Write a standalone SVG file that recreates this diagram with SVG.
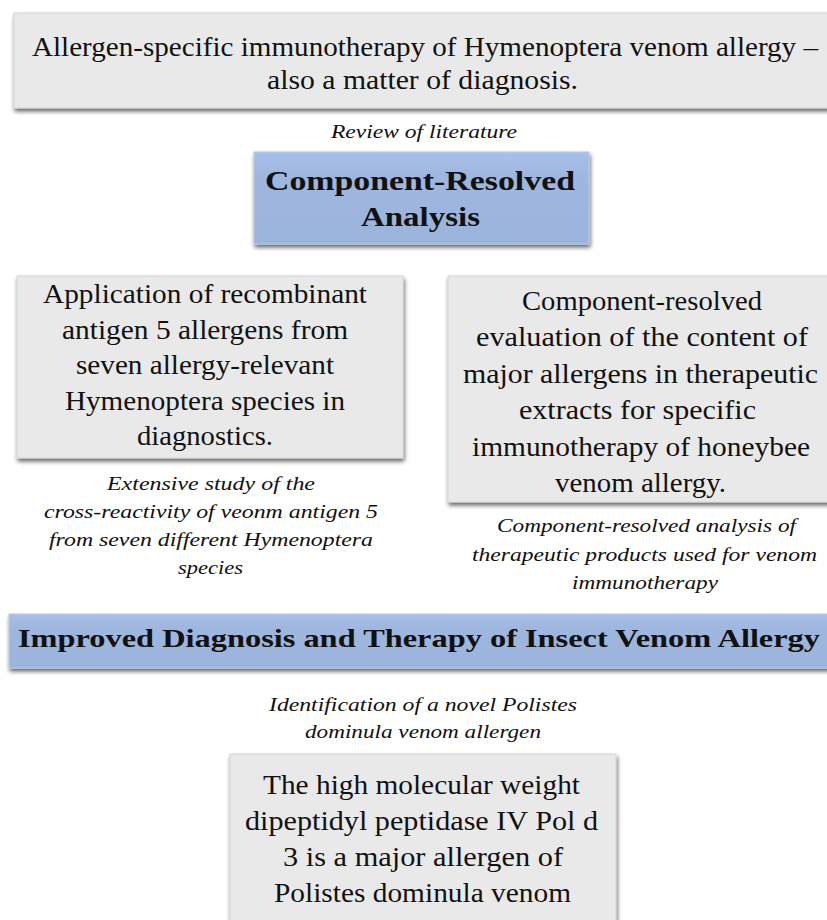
<svg xmlns="http://www.w3.org/2000/svg" width="827" height="920" viewBox="0 0 827 920">
<defs>
<filter id="sh" x="-5%" y="-5%" width="115%" height="125%">
<feGaussianBlur in="SourceAlpha" stdDeviation="2"/>
<feOffset dx="1" dy="3" result="b"/>
<feComponentTransfer><feFuncA type="linear" slope="0.6"/></feComponentTransfer>
<feMerge><feMergeNode/><feMergeNode in="SourceGraphic"/></feMerge>
</filter>
<linearGradient id="blue" x1="0" y1="0" x2="0" y2="1">
<stop offset="0" stop-color="#a9c1e8"/>
<stop offset="0.25" stop-color="#9fb7df"/>
<stop offset="1" stop-color="#9bb4dc"/>
</linearGradient>
</defs>
<style>
.g{fill:#e9e9e9;stroke:#d4d4d4;stroke-width:1}
.b{fill:url(#blue);stroke:#b4c8e8;stroke-width:1}
text{fill:#111;text-anchor:middle}
.t{font-size:27px}
.bt{font-size:27px;font-weight:bold}
.bn{font-size:25px;font-weight:bold}
.i{font-size:18.5px;font-style:italic}
</style>
<rect width="827" height="920" fill="#ffffff"/>
<g font-family="Liberation Serif, DejaVu Serif, serif">
<g id="title">
<rect class="g" x="14" y="13" width="830" height="95" filter="url(#sh)"/>
<text class="t" x="425" y="56" textLength="786" lengthAdjust="spacingAndGlyphs">Allergen-specific immunotherapy of Hymenoptera venom allergy –</text>
<text class="t" x="422.5" y="89" textLength="311" lengthAdjust="spacingAndGlyphs">also a matter of diagnosis.</text>
</g>
<g id="review">
<text class="i" x="424" y="138" textLength="186" lengthAdjust="spacingAndGlyphs">Review of literature</text>
</g>
<g id="cra">
<rect class="b" x="254" y="152" width="335" height="92" filter="url(#sh)"/>
<text class="bt" x="420" y="190" textLength="310" lengthAdjust="spacingAndGlyphs">Component-Resolved</text>
<text class="bt" x="420.5" y="226" textLength="119" lengthAdjust="spacingAndGlyphs">Analysis</text>
</g>
<g id="left">
<rect class="g" x="17" y="276" width="386" height="182" filter="url(#sh)"/>
<text class="t" x="205" y="303" textLength="324" lengthAdjust="spacingAndGlyphs">Application of recombinant</text>
<text class="t" x="205" y="338.5" textLength="286" lengthAdjust="spacingAndGlyphs">antigen 5 allergens from</text>
<text class="t" x="205" y="374" textLength="258" lengthAdjust="spacingAndGlyphs">seven allergy-relevant</text>
<text class="t" x="205" y="409.5" textLength="280" lengthAdjust="spacingAndGlyphs">Hymenoptera species in</text>
<text class="t" x="205" y="445" textLength="136" lengthAdjust="spacingAndGlyphs">diagnostics.</text>
</g>
<g id="leftcap">
<text class="i" x="211" y="490" textLength="208" lengthAdjust="spacingAndGlyphs">Extensive study of the</text>
<text class="i" x="211" y="518" textLength="334" lengthAdjust="spacingAndGlyphs">cross-reactivity of veonm antigen 5</text>
<text class="i" x="211" y="546" textLength="324" lengthAdjust="spacingAndGlyphs">from seven different Hymenoptera</text>
<text class="i" x="210.5" y="574" textLength="65" lengthAdjust="spacingAndGlyphs">species</text>
</g>
<g id="right">
<rect class="g" x="448" y="276" width="400" height="226" filter="url(#sh)"/>
<text class="t" x="642" y="310" textLength="240" lengthAdjust="spacingAndGlyphs">Component-resolved</text>
<text class="t" x="642" y="346.4" textLength="332" lengthAdjust="spacingAndGlyphs">evaluation of the content of</text>
<text class="t" x="640.5" y="382.8" textLength="355" lengthAdjust="spacingAndGlyphs">major allergens in therapeutic</text>
<text class="t" x="637.5" y="419.2" textLength="237" lengthAdjust="spacingAndGlyphs">extracts for specific</text>
<text class="t" x="641" y="455.6" textLength="338" lengthAdjust="spacingAndGlyphs">immunotherapy of honeybee</text>
<text class="t" x="640.5" y="492" textLength="171" lengthAdjust="spacingAndGlyphs">venom allergy.</text>
</g>
<g id="rightcap">
<text class="i" x="646.5" y="532" textLength="299" lengthAdjust="spacingAndGlyphs">Component-resolved analysis of</text>
<text class="i" x="644.5" y="561" textLength="345" lengthAdjust="spacingAndGlyphs">therapeutic products used for venom</text>
<text class="i" x="645" y="589" textLength="146" lengthAdjust="spacingAndGlyphs">immunotherapy</text>
</g>
<g id="banner">
<rect class="b" x="9" y="614" width="840" height="54" filter="url(#sh)"/>
<text class="bn" x="419" y="647" textLength="802" lengthAdjust="spacingAndGlyphs">Improved Diagnosis and Therapy of Insect Venom Allergy</text>
</g>
<g id="polcap">
<text class="i" x="423" y="711" textLength="308" lengthAdjust="spacingAndGlyphs">Identification of a novel Polistes</text>
<text class="i" x="423" y="738" textLength="236" lengthAdjust="spacingAndGlyphs">dominula venom allergen</text>
</g>
<g id="pold3">
<rect class="g" x="230" y="754" width="386" height="190" filter="url(#sh)"/>
<text class="t" x="421.5" y="794" textLength="317" lengthAdjust="spacingAndGlyphs">The high molecular weight</text>
<text class="t" x="421.5" y="830" textLength="353" lengthAdjust="spacingAndGlyphs">dipeptidyl peptidase IV Pol d</text>
<text class="t" x="423" y="866" textLength="280" lengthAdjust="spacingAndGlyphs">3 is a major allergen of</text>
<text class="t" x="422.5" y="902" textLength="297" lengthAdjust="spacingAndGlyphs">Polistes dominula venom</text>
</g>
</g>
<g id="connectors"></g>
</svg>
